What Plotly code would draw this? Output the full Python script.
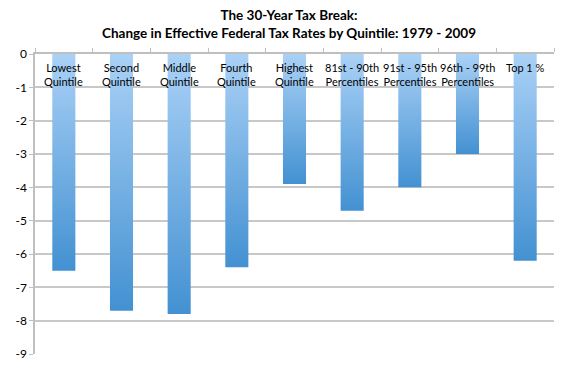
import plotly.graph_objects as go

categories = ["Lowest<br>Quintile", "Second<br>Quintile", "Middle<br>Quintile", "Fourth<br>Quintile",
              "Highest<br>Quintile", "81st - 90th<br>Percentiles", "91st - 95th<br>Percentiles",
              "96th - 99th<br>Percentiles", "Top 1 %"]
values = [-6.5, -7.7, -7.8, -6.4, -3.9, -4.7, -4.0, -3.0, -6.2]
y_ticks = [0, -1, -2, -3, -4, -5, -6, -7, -8, -9]

FONT = "Lato, Liberation Sans, sans-serif"
half = 0.2

fig = go.Figure()
for i, v in enumerate(values):
    fig.add_trace(go.Scatter(
        x=[i - half, i + half, i + half, i - half, i - half],
        y=[0, 0, v, v, 0],
        mode="lines", line=dict(width=0),
        fill="toself",
        fillgradient=dict(type="vertical",
                          colorscale=[[0, "#4391d2"], [1, "#aad1f6"]]),
        showlegend=False, hoverinfo="skip",
    ))

for i, c in enumerate(categories):
    fig.add_annotation(x=i, y=0, xref="x", yref="y", text=c, showarrow=False,
                       yanchor="top", yshift=-5, font=dict(family=FONT, size=11, color="#000"))

fig.add_annotation(xref="paper", yref="paper", x=0.49, y=1, yshift=49, xanchor="center", yanchor="top",
                   showarrow=False, align="center",
                   text="<b>The 30-Year Tax Break:<br>Change in Effective Federal Tax Rates by Quintile: 1979 - 2009</b>",
                   font=dict(family=FONT, size=13.5, color="#000"))

fig.update_layout(
    width=570, height=373,
    margin=dict(l=35, r=16, t=54, b=19),
    paper_bgcolor="white", plot_bgcolor="white",
)
fig.update_xaxes(range=[-0.5, 8.5], side="top", showline=True, linecolor="#bfbfbf", linewidth=1.5,
                 showgrid=False, zeroline=False, showticklabels=False, automargin=False,
                 tickmode="array", tickvals=[i - 0.5 for i in range(len(values) + 1)],
                 ticks="outside", ticklen=4, tickcolor="#bfbfbf")
fig.update_yaxes(range=[-9, 0], tickmode="array", tickvals=y_ticks, ticktext=[str(t) for t in y_ticks],
                 showgrid=True, gridcolor="#c8c8c8", gridwidth=1.5, zeroline=False, automargin=False,
                 showline=True, linecolor="#bfbfbf", linewidth=1.5,
                 ticks="outside", ticklen=4, tickcolor="#bfbfbf",
                 tickfont=dict(family=FONT, size=12, color="#000"))

fig.write_html("out.html", config={"displayModeBar": False},
               post_script="document.body.style.margin='0';")
